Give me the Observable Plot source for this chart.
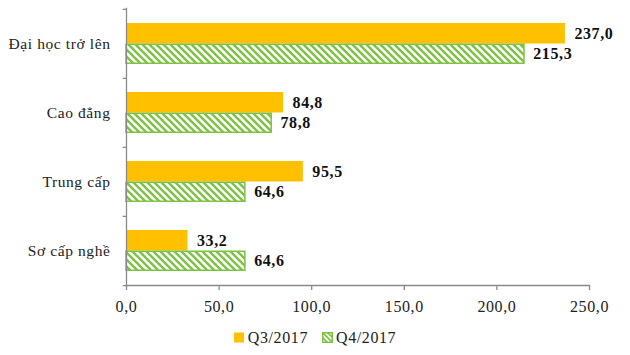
<!DOCTYPE html>
<html>
<head>
<meta charset="utf-8">
<script src="https://cdn.jsdelivr.net/npm/d3@7"></script>
<script src="https://cdn.jsdelivr.net/npm/@observablehq/plot@0.6"></script>
<style>
  html, body { margin: 0; padding: 0; background: #fff; }
  #chart { width: 630px; }
  .legend { display: flex; justify-content: center; align-items: center; height: 35px; font-family: "Liberation Serif", "Times New Roman", serif; font-size: 16px; letter-spacing: 0.6px; color: #222; padding-left: 0px; }
  .legend .item { display: flex; align-items: center; margin: 0 7px; }
  .legend svg { margin-right: 3px; }
</style>
</head>
<body>
<div id="chart"></div>
<script>
const categories = ["Đại học trở lên", "Cao đẳng", "Trung cấp", "Sơ cấp nghề"];
const q3Values = [237.0, 84.8, 95.5, 33.2];
const q4Values = [215.3, 78.8, 64.6, 64.6];
const seriesNames = ["Q3/2017", "Q4/2017"];
const xTicks = [0, 50, 100, 150, 200, 250];

const orange = "#FFC000";
const green = "#7DC242";
const axisColor = "#8a8a8a";
const fmt = d => d.toFixed(1).replace(".", ",");

const q3 = categories.map((c, i) => ({category: c, value: q3Values[i]}));
const q4 = categories.map((c, i) => ({category: c, value: q4Values[i]}));

const height = 320, marginTop = 8, marginBottom = 35;
const step = (height - marginTop - marginBottom) / categories.length;
const pad = 0.408;
const bw = step * (1 - pad);

const serif = "'Liberation Serif', 'Times New Roman', serif";

const chart = Plot.plot({
  width: 630,
  height,
  marginLeft: 126,
  marginRight: 41,
  marginTop,
  marginBottom,
  style: {fontFamily: serif, fontSize: "15px", color: "#222", overflow: "visible"},
  x: {domain: [0, 250], ticks: xTicks, label: null},
  y: {domain: categories, paddingInner: pad, paddingOuter: pad / 2, label: null},
  marks: [
    Plot.barX(q3, {y: "category", x: "value", fill: orange, insetBottom: bw / 2}),
    Plot.barX(q4, {y: "category", x: "value", fill: "url(#hatch)", stroke: green, strokeWidth: 1.5, insetTop: bw / 2 + 0.75, insetBottom: 0.75, insetRight: 0.75}),
    Plot.frame({anchor: "left", stroke: axisColor, strokeWidth: 1.3}),
    Plot.frame({anchor: "bottom", stroke: axisColor, strokeWidth: 1.3}),
    Plot.ruleY(categories, {y: d => d, dy: -step / 2, x1: -1.8, x2: 0, stroke: axisColor, strokeWidth: 1.3}),
    Plot.ruleY(categories.slice(-1), {y: d => d, dy: step / 2, x1: -1.8, x2: 0, stroke: axisColor, strokeWidth: 1.3}),
    Plot.axisX({ticks: xTicks, tickFormat: fmt, tickSize: 5, tickPadding: 10, stroke: axisColor, strokeWidth: 1.3, fontSize: 16, fill: "#222", label: null}),
    Plot.axisY({tickSize: 0, tickPadding: 16, fontSize: 15.5, fill: "#222", label: null}),
    Plot.text(q3, {y: "category", x: "value", text: d => fmt(d.value), dy: -bw / 4, dx: 9, textAnchor: "start", fontWeight: "bold", fontSize: 16, fill: "#111"}),
    Plot.text(q4, {y: "category", x: "value", text: d => fmt(d.value), dy: bw / 4, dx: 8, textAnchor: "start", fontWeight: "bold", fontSize: 16, fill: "#111"})
  ]
});

const svg = d3.select(chart);
svg.selectAll("text").style("letter-spacing", "0.6px");
const defs = svg.insert("defs", ":first-child");
const pat = defs.append("pattern").attr("id", "hatch").attr("patternUnits", "userSpaceOnUse")
  .attr("width", 7).attr("height", 7);
pat.append("rect").attr("width", 7).attr("height", 7).attr("fill", "#fff");
pat.append("path").attr("d", "M-1,-1 L8,8 M-1,6 L1,8 M6,-1 L8,1")
  .attr("stroke", green).attr("stroke-width", 2.4);

document.getElementById("chart").appendChild(chart);

// Legend
const legend = d3.select("#chart").append("div").attr("class", "legend");
seriesNames.forEach((name, i) => {
  const item = legend.append("div").attr("class", "item");
  const s = item.append("svg").attr("width", 11).attr("height", 11);
  if (i === 0) {
    s.append("rect").attr("width", 10).attr("height", 10).attr("y", 0.5).attr("fill", orange);
  } else {
    const d2 = s.append("defs").append("pattern").attr("id", "hatchLegend").attr("patternUnits", "userSpaceOnUse").attr("width", 5).attr("height", 5);
    d2.append("rect").attr("width", 5).attr("height", 5).attr("fill", "#fff");
    d2.append("path").attr("d", "M-1,-1 L6,6 M-1,4 L1,6 M4,-1 L6,1").attr("stroke", green).attr("stroke-width", 1.6);
    s.append("rect").attr("x", 0.75).attr("y", 0.75).attr("width", 9.5).attr("height", 9.5).attr("fill", "url(#hatchLegend)").attr("stroke", green).attr("stroke-width", 1.5);
  }
  item.append("span").text(name);
});
</script>
</body>
</html>
